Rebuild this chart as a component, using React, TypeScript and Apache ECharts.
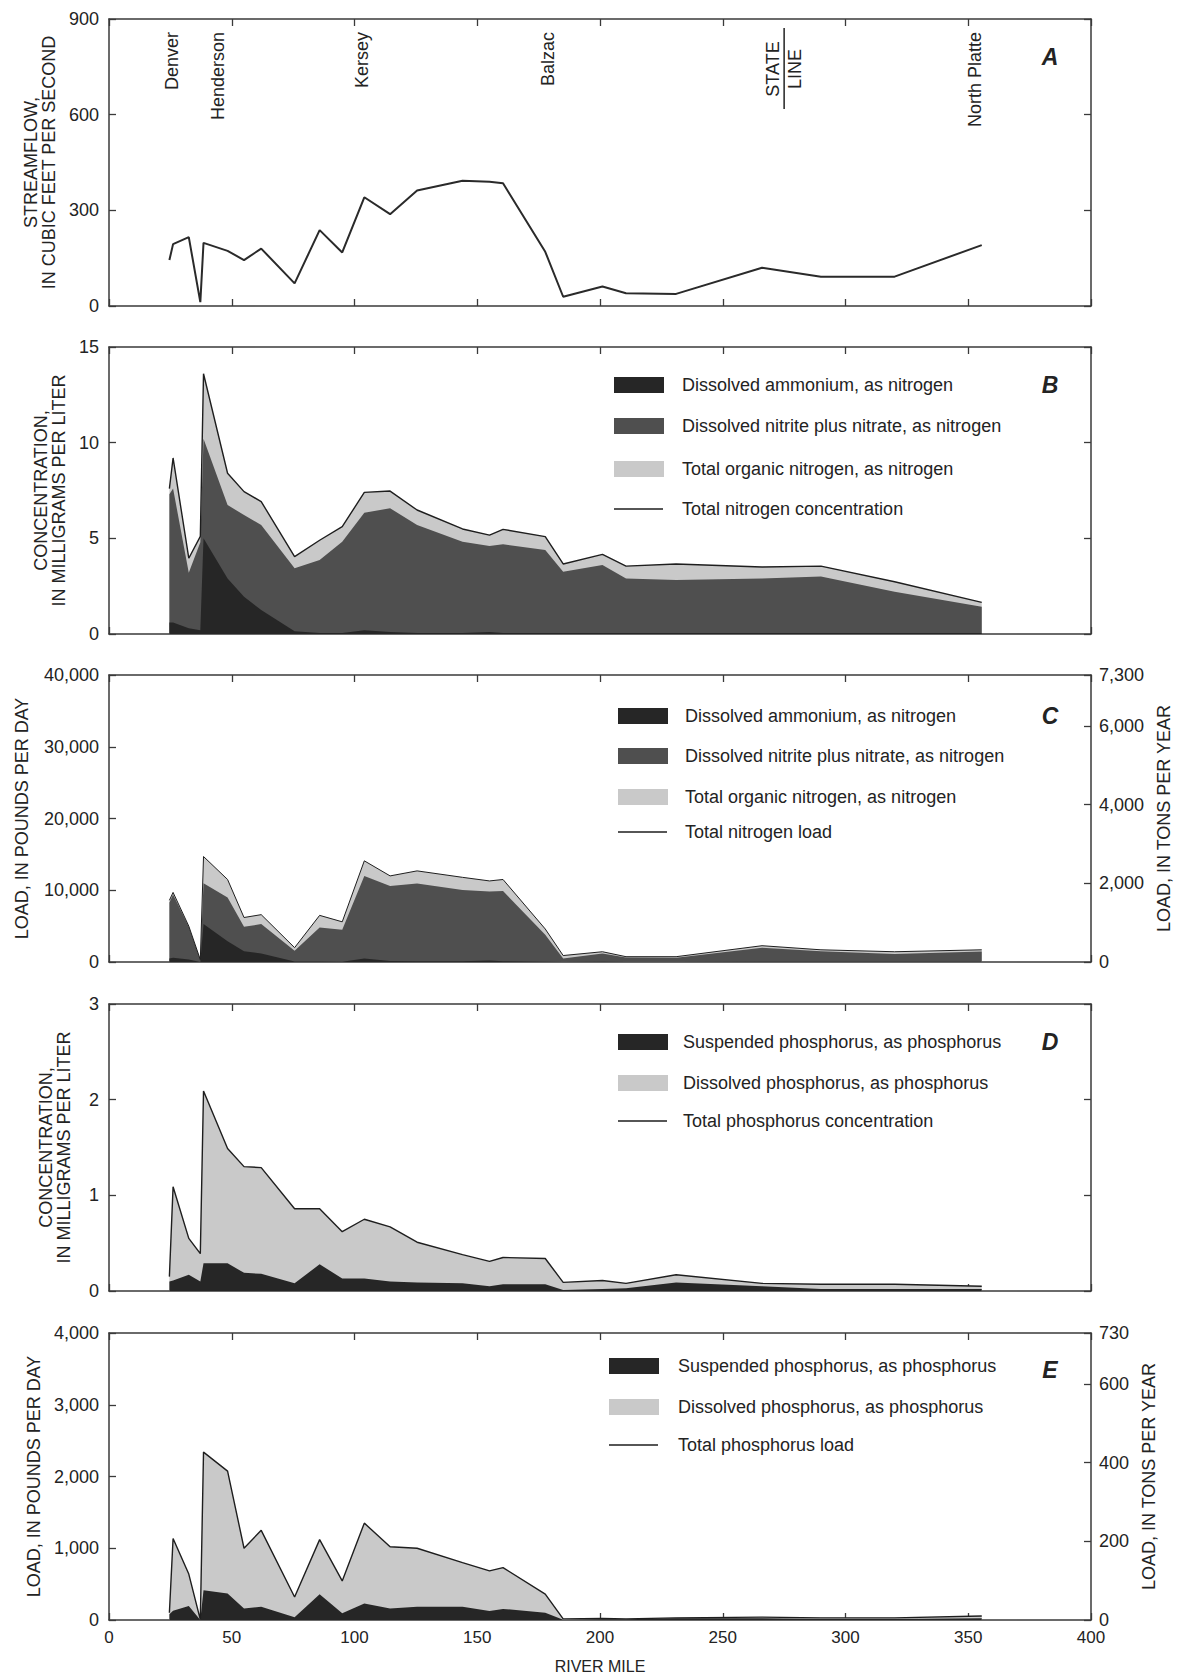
import React, { useEffect, useRef } from 'react';
import * as echarts from 'echarts';

// ---------------- DATA ----------------
// river miles of sampling sites
const MILES = [24.6, 26.1, 32.5, 37.2, 38.5, 48.3, 55, 62, 75.6, 85.8, 95, 104, 114.5, 125.5, 144, 155, 160.5, 177.7, 185, 201, 210.6, 231, 266, 290, 320, 355.5];

// A: streamflow, cubic feet per second
const STREAMFLOW = [144, 194, 216, 12, 198, 173, 144, 180, 71, 238, 168, 341, 288, 362, 393, 390, 385, 170, 29, 61, 40, 38, 120, 92, 92, 191];

// B: nitrogen concentration, mg/L
const NH4_CONC = [0.6, 0.6, 0.3, 0.2, 5.0, 2.9, 1.95, 1.25, 0.15, 0.05, 0.05, 0.2, 0.1, 0.05, 0.05, 0.1, 0.05, 0.05, 0.05, 0.05, 0.05, 0.05, 0.05, 0.05, 0.05, 0.05];
const NO23_CONC = [6.7, 7.0, 2.9, 4.6, 5.2, 3.84, 4.27, 4.45, 3.28, 3.82, 4.77, 6.14, 6.47, 5.65, 4.77, 4.5, 4.64, 4.34, 3.21, 3.55, 2.85, 2.77, 2.85, 2.95, 2.16, 1.38];
const ORGN_CONC = [0.3, 1.6, 0.76, 0.3, 3.4, 1.66, 1.22, 1.22, 0.61, 1.03, 0.79, 1.06, 0.9, 0.78, 0.67, 0.57, 0.78, 0.7, 0.4, 0.56, 0.65, 0.84, 0.6, 0.55, 0.52, 0.22];

// C: nitrogen load, pounds per day
const NH4_LOAD = [480, 600, 350, 10, 5300, 2900, 1500, 1200, 60, 60, 50, 500, 150, 100, 100, 200, 100, 50, 10, 20, 10, 10, 30, 20, 20, 30];
const NO23_LOAD = [7820, 8800, 4550, 290, 5670, 6080, 3400, 4080, 1510, 4750, 4440, 11490, 10450, 10830, 9940, 9620, 9800, 3740, 490, 1160, 615, 570, 1970, 1470, 1080, 1420];
const ORGN_LOAD = [300, 300, 100, 30, 3730, 2520, 1300, 1320, 430, 1690, 1110, 2110, 1400, 1770, 1760, 1480, 1600, 810, 400, 250, 115, 160, 270, 210, 330, 250];

// D: phosphorus concentration, mg/L
const SUSP_P_CONC = [0.1, 0.11, 0.17, 0.1, 0.29, 0.29, 0.19, 0.18, 0.08, 0.28, 0.13, 0.13, 0.1, 0.09, 0.08, 0.05, 0.07, 0.07, 0.01, 0.02, 0.03, 0.09, 0.05, 0.02, 0.02, 0.02];
const DISS_P_CONC = [0.05, 0.98, 0.38, 0.29, 1.8, 1.2, 1.11, 1.11, 0.78, 0.58, 0.49, 0.62, 0.57, 0.42, 0.3, 0.26, 0.28, 0.27, 0.08, 0.09, 0.05, 0.08, 0.03, 0.05, 0.05, 0.03];

// E: phosphorus load, pounds per day
const SUSP_P_LOAD = [80, 130, 195, 0, 415, 370, 160, 185, 40, 360, 95, 230, 160, 185, 185, 125, 155, 100, 5, 10, 10, 25, 25, 15, 15, 25];
const DISS_P_LOAD = [20, 1007, 445, 5, 1925, 1705, 840, 1065, 280, 760, 450, 1120, 860, 815, 615, 560, 575, 260, 10, 10, 5, 5, 15, 15, 15, 30];

// annotations
const SITES = [
  { name: 'Denver', mile: 25.7 },
  { name: 'Henderson', mile: 44.4 },
  { name: 'Kersey', mile: 103 },
  { name: 'Balzac', mile: 178.8 },
  { name: 'North Platte', mile: 352.8 },
];
const STATE_LINE_MILE = 275;

const X_TICKS = { min: 0, max: 400, interval: 50 };
const PANEL_LETTERS = ['A', 'B', 'C', 'D', 'E'];

// ---------------- STYLE ----------------
const FONT = "'Liberation Sans', Arial, Helvetica, sans-serif";
const TEXT = '#232323';
const AXIS = '#3a3a3a';
const C_DARK = '#262626';
const C_MID = '#4f4f4f';
const C_LIGHT = '#c9c9c9';
const C_LINE = '#1e1e1e';

const GRID_LEFT = 109;
const GRID_WIDTH = 982;
const GRID_TOPS = [19, 347, 675, 1004, 1333];
const GRID_H = 287;

const sum = (...arrs: number[][]) => arrs[0].map((_, k) => arrs.reduce((s, a) => s + a[k], 0));
const pts = (vals: number[]) => MILES.map((m, k) => [m, +vals[k].toFixed(4)]);
const fmt = (v: number) => v.toLocaleString('en-US');

function areaSeries(i: number, vals: number[], color: string, z: number) {
  return {
    type: 'line', xAxisIndex: 2 * i, yAxisIndex: 2 * i, data: pts(vals),
    symbol: 'none', showSymbol: false, silent: true, z,
    lineStyle: { opacity: 0, width: 0 },
    areaStyle: { color, opacity: 1 },
  };
}
function lineSeries(i: number, vals: number[], width: number, z: number) {
  return {
    type: 'line', xAxisIndex: 2 * i, yAxisIndex: 2 * i, data: pts(vals),
    symbol: 'none', showSymbol: false, silent: true, z,
    lineStyle: { color: C_LINE, width },
  };
}

const tickStyle = { inside: true, length: 7, lineStyle: { color: AXIS, width: 1.3 } };
const lineStyleAxis = { show: true, onZero: false, lineStyle: { color: AXIS, width: 1.5 } };
const labelStyle = { fontSize: 18, color: TEXT, fontFamily: FONT };

type YDef = {
  max: number; interval: number; name: string; gap: number; comma?: boolean;
  right?: { max: number; interval: number; name: string; gap: number };
};
const Y_DEFS: YDef[] = [
  { max: 900, interval: 300, name: 'STREAMFLOW,\nIN CUBIC FEET PER SECOND', gap: 50 },
  { max: 15, interval: 5, name: 'CONCENTRATION,\nIN MILLIGRAMS PER LITER', gap: 40 },
  { max: 40000, interval: 10000, name: 'LOAD, IN POUNDS PER DAY', gap: 78, comma: true,
    right: { max: 7300, interval: 2000, name: 'LOAD, IN TONS PER YEAR', gap: 63 } },
  { max: 3, interval: 1, name: 'CONCENTRATION,\nIN MILLIGRAMS PER LITER', gap: 36 },
  { max: 4000, interval: 1000, name: 'LOAD, IN POUNDS PER DAY', gap: 62, comma: true,
    right: { max: 730, interval: 200, name: 'LOAD, IN TONS PER YEAR', gap: 49 } },
];

function buildOption() {
  const grid = GRID_TOPS.map((top) => ({
    left: GRID_LEFT, width: GRID_WIDTH, top, height: GRID_H, outerBoundsMode: 'none',
  }));
  const xAxis: any[] = [];
  const yAxis: any[] = [];
  GRID_TOPS.forEach((_, i) => {
    const last = i === GRID_TOPS.length - 1;
    xAxis.push({
      gridIndex: i, type: 'value', ...X_TICKS, position: 'bottom',
      axisLine: lineStyleAxis, axisTick: tickStyle, splitLine: { show: false },
      axisLabel: { show: last, margin: 9, fontSize: 17, color: TEXT, fontFamily: FONT },
      name: last ? 'RIVER MILE' : '', nameLocation: 'middle', nameGap: 38,
      nameTextStyle: { fontSize: 16, color: TEXT, fontFamily: FONT },
    });
    xAxis.push({
      gridIndex: i, type: 'value', ...X_TICKS, position: 'top',
      axisLine: lineStyleAxis, axisTick: tickStyle, splitLine: { show: false },
      axisLabel: { show: false },
    });
    const d = Y_DEFS[i];
    yAxis.push({
      gridIndex: i, type: 'value', min: 0, max: d.max, interval: d.interval, position: 'left',
      axisLine: lineStyleAxis, axisTick: tickStyle, splitLine: { show: false },
      axisLabel: { ...labelStyle, margin: 10, formatter: (v: number) => (d.comma ? fmt(v) : String(v)) },
      name: d.name, nameLocation: 'middle', nameRotate: 90, nameGap: d.gap,
      nameTextStyle: { fontSize: 18, lineHeight: 18, color: TEXT, fontFamily: FONT, align: 'center' },
    });
    const r = d.right;
    yAxis.push({
      gridIndex: i, type: 'value', min: 0, max: r ? r.max : d.max, interval: r ? r.interval : d.interval,
      position: 'right',
      axisLine: lineStyleAxis, axisTick: tickStyle, splitLine: { show: false },
      axisLabel: r ? { ...labelStyle, margin: 8, formatter: (v: number) => fmt(v) } : { show: false },
      name: r ? r.name : '', nameLocation: 'middle', nameRotate: 90, nameGap: r ? r.gap : 0,
      nameTextStyle: { fontSize: 18, color: TEXT, fontFamily: FONT },
    });
  });

  const series: any[] = [];
  // A
  series.push({ ...lineSeries(0, STREAMFLOW, 2, 5), lineStyle: { color: '#2a2a2a', width: 2 } });
  // B
  const bTotal = sum(NH4_CONC, NO23_CONC, ORGN_CONC);
  series.push(areaSeries(1, bTotal, C_LIGHT, 2));
  series.push(areaSeries(1, sum(NH4_CONC, NO23_CONC), C_MID, 3));
  series.push(areaSeries(1, NH4_CONC, C_DARK, 4));
  series.push(lineSeries(1, bTotal, 1.4, 5));
  // C
  const cTotal = sum(NH4_LOAD, NO23_LOAD, ORGN_LOAD);
  series.push(areaSeries(2, cTotal, C_LIGHT, 2));
  series.push(areaSeries(2, sum(NH4_LOAD, NO23_LOAD), C_MID, 3));
  series.push(areaSeries(2, NH4_LOAD, C_DARK, 4));
  series.push(lineSeries(2, cTotal, 1.0, 5));
  // D
  const dTotal = sum(SUSP_P_CONC, DISS_P_CONC);
  series.push(areaSeries(3, dTotal, C_LIGHT, 2));
  series.push(areaSeries(3, SUSP_P_CONC, C_DARK, 4));
  series.push(lineSeries(3, dTotal, 1.4, 5));
  // E
  const eTotal = sum(SUSP_P_LOAD, DISS_P_LOAD);
  series.push(areaSeries(4, eTotal, C_LIGHT, 2));
  series.push(areaSeries(4, SUSP_P_LOAD, C_DARK, 4));
  series.push(lineSeries(4, eTotal, 1.4, 5));

  return { animation: false, backgroundColor: '#ffffff', grid, xAxis, yAxis, series };
}

type LegendItem = { label: string; kind: 'box' | 'line'; color?: string };
const LEGENDS: { panel: number; swatchX: number; textX: number; rows: number[]; items: LegendItem[] }[] = [
  { panel: 1, swatchX: 614, textX: 682, rows: [38, 79, 122, 162], items: [
    { label: 'Dissolved ammonium, as nitrogen', kind: 'box', color: C_DARK },
    { label: 'Dissolved nitrite plus nitrate, as nitrogen', kind: 'box', color: C_MID },
    { label: 'Total organic nitrogen, as nitrogen', kind: 'box', color: C_LIGHT },
    { label: 'Total nitrogen concentration', kind: 'line' },
  ] },
  { panel: 2, swatchX: 618, textX: 685, rows: [41, 81, 122, 157], items: [
    { label: 'Dissolved ammonium, as nitrogen', kind: 'box', color: C_DARK },
    { label: 'Dissolved nitrite plus nitrate, as nitrogen', kind: 'box', color: C_MID },
    { label: 'Total organic nitrogen, as nitrogen', kind: 'box', color: C_LIGHT },
    { label: 'Total nitrogen load', kind: 'line' },
  ] },
  { panel: 3, swatchX: 618, textX: 683, rows: [38, 79, 117], items: [
    { label: 'Suspended phosphorus, as phosphorus', kind: 'box', color: C_DARK },
    { label: 'Dissolved phosphorus, as phosphorus', kind: 'box', color: C_LIGHT },
    { label: 'Total phosphorus concentration', kind: 'line' },
  ] },
  { panel: 4, swatchX: 609, textX: 678, rows: [33, 74, 112], items: [
    { label: 'Suspended phosphorus, as phosphorus', kind: 'box', color: C_DARK },
    { label: 'Dissolved phosphorus, as phosphorus', kind: 'box', color: C_LIGHT },
    { label: 'Total phosphorus load', kind: 'line' },
  ] },
];
const LETTER_OFFSETS = [38, 38, 41, 38, 37];

function buildGraphics(chart: echarts.ECharts) {
  const g: any[] = [];
  const font18 = `18px ${FONT}`;
  LEGENDS.forEach((lg) => {
    const top = GRID_TOPS[lg.panel];
    lg.items.forEach((it, k) => {
      const y = top + lg.rows[k];
      if (it.kind === 'box') {
        g.push({ type: 'rect', silent: true, shape: { x: lg.swatchX, y: y - 8, width: 50, height: 16 }, style: { fill: it.color } });
      } else {
        g.push({ type: 'line', silent: true, shape: { x1: lg.swatchX, y1: y, x2: lg.swatchX + 49, y2: y }, style: { stroke: C_LINE, lineWidth: 1.3 } });
      }
      g.push({ type: 'text', silent: true, x: lg.textX, y, style: { text: it.label, font: font18, fill: TEXT, align: 'left', verticalAlign: 'middle' } });
    });
  });
  PANEL_LETTERS.forEach((L, i) => {
    g.push({ type: 'text', silent: true, x: 1050, y: GRID_TOPS[i] + LETTER_OFFSETS[i],
      style: { text: L, font: `italic bold 23px ${FONT}`, fill: TEXT, align: 'center', verticalAlign: 'middle' } });
  });
  const px = (m: number) => chart.convertToPixel({ xAxisIndex: 0 }, m) as number;
  SITES.forEach((s) => {
    g.push({ type: 'text', silent: true, x: px(s.mile), y: 32, rotation: Math.PI / 2,
      style: { text: s.name, font: font18, fill: TEXT, align: 'right', verticalAlign: 'middle' } });
  });
  const sx = px(STATE_LINE_MILE);
  g.push({ type: 'line', silent: true, shape: { x1: sx, y1: 28, x2: sx, y2: 109 }, style: { stroke: TEXT, lineWidth: 1.5 } });
  g.push({ type: 'text', silent: true, x: sx - 11, y: 69, rotation: Math.PI / 2,
    style: { text: 'STATE', font: font18, fill: TEXT, align: 'center', verticalAlign: 'middle' } });
  g.push({ type: 'text', silent: true, x: sx + 11, y: 69, rotation: Math.PI / 2,
    style: { text: 'LINE', font: font18, fill: TEXT, align: 'center', verticalAlign: 'middle' } });
  return g;
}

export default function App() {
  const ref = useRef<HTMLDivElement>(null);
  useEffect(() => {
    document.body.style.margin = '0';
    const chart = echarts.init(ref.current!, undefined, { renderer: 'svg' });
    chart.setOption(buildOption() as any);
    chart.setOption({ graphic: buildGraphics(chart) } as any);
    return () => chart.dispose();
  }, []);
  return <div ref={ref} style={{ width: 1181, height: 1678 }} />;
}
